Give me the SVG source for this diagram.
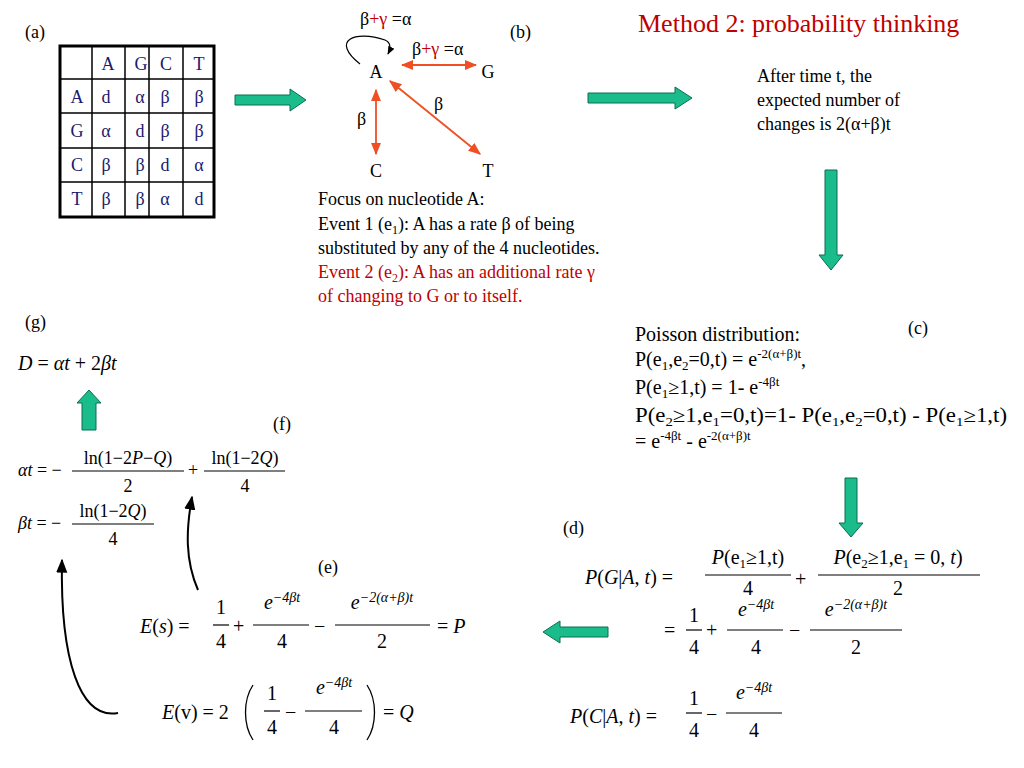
<svg xmlns="http://www.w3.org/2000/svg" width="1024" height="768" viewBox="0 0 1024 768" font-family="'Liberation Serif', 'Times New Roman', serif">
<defs>
<style>
text{font-family:"Liberation Serif","Times New Roman",serif;fill:#000}
.t{font-size:18px;fill:#1a1a6e;text-anchor:middle}
.s{font-size:18px}
.m{font-size:20px}
.i{font-style:italic}
.red{fill:#c00000}
.cell{fill:none;stroke:#000;stroke-width:1.5}
.arrR{stroke:#f04e23;stroke-width:1.8;fill:none}
.fr{stroke:#000;stroke-width:1.2}
.ga{fill:#1abc8c;stroke:#0a6e52;stroke-width:1}
</style>
<marker id="ra" viewBox="0 0 10 10" refX="9" refY="5" markerWidth="7" markerHeight="7" orient="auto-start-reverse"><path d="M0,1 L10,5 L0,9 z" fill="#f04e23"/></marker>
<marker id="ka" viewBox="0 0 10 10" refX="9" refY="5" markerWidth="7" markerHeight="7" orient="auto"><path d="M0,1 L10,5 L0,9 z" fill="#000"/></marker>
</defs>
<rect width="1024" height="768" fill="#fff"/>

<text x="25" y="38" class="s">(a)</text>
<text x="510" y="38" class="s">(b)</text>
<text x="638" y="32" style="font-size:26px" class="red">Method 2: probability thinking</text>

<g id="table">
<rect x="60" y="46" width="154" height="171" fill="#fff" stroke="#000" stroke-width="3"/>
<path class="cell" d="M92,46V217M125,46V217M149,46V217M183,46V217M60,79H214M60,113H214M60,148H214M60,182H214"/>
<text x="108" y="70" class="t">A</text><text x="141" y="70" class="t">G</text><text x="166" y="70" class="t">C</text><text x="199" y="70" class="t">T</text>
<text x="77" y="103" class="t">A</text><text x="106" y="103" class="t">d</text><text x="140" y="103" class="t">α</text><text x="165" y="103" class="t">β</text><text x="199" y="103" class="t">β</text>
<text x="77" y="137" class="t">G</text><text x="106" y="137" class="t">α</text><text x="140" y="137" class="t">d</text><text x="165" y="137" class="t">β</text><text x="199" y="137" class="t">β</text>
<text x="77" y="171" class="t">C</text><text x="106" y="171" class="t">β</text><text x="140" y="171" class="t">β</text><text x="165" y="171" class="t">d</text><text x="199" y="171" class="t">α</text>
<text x="77" y="205" class="t">T</text><text x="106" y="205" class="t">β</text><text x="140" y="205" class="t">β</text><text x="165" y="205" class="t">α</text><text x="199" y="205" class="t">d</text>
</g>

<g id="graph-b">
<text x="360" y="25" class="s">β<tspan class="red">+γ</tspan>  =α</text>
<text x="412" y="55" class="s">β<tspan class="red">+γ</tspan>  =α</text>
<text x="376" y="78" class="s" text-anchor="middle">A</text>
<text x="488" y="78" class="s" text-anchor="middle">G</text>
<text x="376" y="177" class="s" text-anchor="middle">C</text>
<text x="488" y="177" class="s" text-anchor="middle">T</text>
<text x="357" y="125" class="s">β</text>
<text x="434" y="110" class="s">β</text>
</g>

<g id="connectors">
<path d="M360,64 C330,40 355,30 385,40 C392,43 390,50 388,54" fill="none" stroke="#000" stroke-width="1.2" marker-end="url(#ka)"/>
<line x1="402" y1="65" x2="476" y2="65" class="arrR" marker-start="url(#ra)" marker-end="url(#ra)"/>
<line x1="376" y1="90" x2="376" y2="154" class="arrR" marker-start="url(#ra)" marker-end="url(#ra)"/>
<line x1="390" y1="81" x2="480" y2="154" class="arrR" marker-start="url(#ra)" marker-end="url(#ra)"/>
<path d="M198,590 C185,560 186,530 192,497" fill="none" stroke="#000" stroke-width="2" marker-end="url(#ka)"/>
<path d="M118,713 C80,720 60,660 62,560" fill="none" stroke="#000" stroke-width="2" marker-end="url(#ka)"/>
<polygon class="ga" points="235,95 290,95 290,89 306,100 290,111 290,105 235,105"/>
<polygon class="ga" points="588,93 675,93 675,87 692,98 675,109 675,103 588,103"/>
<polygon class="ga" points="825,170 837,170 837,255 843,255 831,270 819,255 825,255"/>
<polygon class="ga" points="845,478 857,478 857,523 863,523 851,537 839,523 845,523"/>
<polygon class="ga" points="608,627 560,627 560,621 543,632 560,643 560,637 608,637"/>
<polygon class="ga" points="82,430 82,403 77,403 89,390 101,403 96,403 96,430"/>
</g>

<g id="text-b">
<text x="318" y="205" class="s">Focus on nucleotide A:</text>
<text x="318" y="230" class="s">Event 1 (e<tspan font-size="12" dy="4">1</tspan><tspan dy="-4">): A has a rate β of being</tspan></text>
<text x="318" y="254" class="s">substituted  by any of the 4 nucleotides.</text>
<text x="318" y="278" class="s red">Event 2 (e<tspan font-size="12" dy="4">2</tspan><tspan dy="-4">): A has an additional rate γ</tspan></text>
<text x="318" y="302" class="s red">of  changing to G or to itself.</text>
</g>

<g id="text-right">
<text x="757" y="82" class="s">After time t, the</text>
<text x="757" y="106" class="s">expected number of</text>
<text x="757" y="130" class="s">changes is 2(α+β)t</text>
</g>

<g id="poisson-c">
<text x="908" y="334" class="s">(c)</text>
<text x="635" y="341" class="m">Poisson distribution:</text>
<text x="635" y="366" class="m">P(e<tspan font-size="13" dy="4">1</tspan><tspan dy="-4">,e</tspan><tspan font-size="13" dy="4">2</tspan><tspan dy="-4">=0,t) = e</tspan><tspan font-size="13" dy="-8">-2(α+β)t</tspan><tspan dy="8">,</tspan></text>
<text x="635" y="394" class="m">P(e<tspan font-size="13" dy="4">1</tspan><tspan dy="-4">≥1,t) = 1- e</tspan><tspan font-size="13" dy="-8">-4βt</tspan></text>
<text x="635" y="422" class="m" textLength="372" lengthAdjust="spacingAndGlyphs">P(e<tspan font-size="13" dy="4">2</tspan><tspan dy="-4">≥1,e</tspan><tspan font-size="13" dy="4">1</tspan><tspan dy="-4">=0,t)=1- P(e</tspan><tspan font-size="13" dy="4">1</tspan><tspan dy="-4">,e</tspan><tspan font-size="13" dy="4">2</tspan><tspan dy="-4">=0,t) - P(e</tspan><tspan font-size="13" dy="4">1</tspan><tspan dy="-4">≥1,t)</tspan></text>
<text x="635" y="448" class="m">= e<tspan font-size="13" dy="-8">-4βt</tspan><tspan dy="8"> - e</tspan><tspan font-size="13" dy="-8">-2(α+β)t</tspan></text>
</g>

<g id="left-g-f">
<text x="25" y="328" class="s">(g)</text>
<text x="18" y="370" class="m"><tspan class="i">D</tspan> = <tspan class="i">αt</tspan> + 2<tspan class="i">βt</tspan></text>
<text x="273" y="430" class="s">(f)</text>
<text x="18" y="476" class="s"><tspan class="i">αt</tspan> = −</text>
<text x="128" y="464" class="s" text-anchor="middle">ln(1−2<tspan class="i">P</tspan>−<tspan class="i">Q</tspan>)</text>
<line x1="72" y1="471" x2="184" y2="471" class="fr"/>
<text x="128" y="492" class="s" text-anchor="middle">2</text>
<text x="188" y="476" class="s">+</text>
<text x="245" y="464" class="s" text-anchor="middle">ln(1−2<tspan class="i">Q</tspan>)</text>
<line x1="204" y1="471" x2="285" y2="471" class="fr"/>
<text x="245" y="492" class="s" text-anchor="middle">4</text>
<text x="18" y="529" class="s"><tspan class="i">βt</tspan> = −</text>
<text x="113" y="517" class="s" text-anchor="middle">ln(1−2<tspan class="i">Q</tspan>)</text>
<line x1="72" y1="524" x2="154" y2="524" class="fr"/>
<text x="113" y="545" class="s" text-anchor="middle">4</text>
</g>

<g id="d-eqs">
<text x="563" y="534" class="s">(d)</text>
<text x="585" y="584" class="m"><tspan class="i">P</tspan>(<tspan class="i">G</tspan>|<tspan class="i">A</tspan>, <tspan class="i">t</tspan>) =</text>
<text x="748" y="564" class="m" text-anchor="middle"><tspan class="i">P</tspan>(e<tspan font-size="13" dy="4">1</tspan><tspan dy="-4">≥1,t)</tspan></text>
<line x1="705" y1="575" x2="791" y2="575" class="fr"/>
<text x="748" y="595" class="m" text-anchor="middle">4</text>
<text x="795" y="586" class="m">+</text>
<text x="898" y="564" class="m" text-anchor="middle"><tspan class="i">P</tspan>(e<tspan font-size="13" dy="4">2</tspan><tspan dy="-4">≥1,e</tspan><tspan font-size="13" dy="4">1</tspan><tspan dy="-4"> = 0, </tspan><tspan class="i">t</tspan>)</text>
<line x1="818" y1="575" x2="980" y2="575" class="fr"/>
<text x="898" y="595" class="m" text-anchor="middle">2</text>
<text x="664" y="637" class="m">=</text>
<text x="694" y="622" class="m" text-anchor="middle">1</text>
<line x1="686" y1="630" x2="702" y2="630" class="fr"/>
<text x="694" y="654" class="m" text-anchor="middle">4</text>
<text x="706" y="637" class="m">+</text>
<text x="756" y="616" class="m" text-anchor="middle"><tspan class="i">e</tspan><tspan font-size="14" dy="-7" class="i">−4βt</tspan></text>
<line x1="727" y1="630" x2="783" y2="630" class="fr"/>
<text x="756" y="654" class="m" text-anchor="middle">4</text>
<text x="789" y="637" class="m">−</text>
<text x="856" y="616" class="m" text-anchor="middle"><tspan class="i">e</tspan><tspan font-size="14" dy="-7" class="i">−2(α+β)t</tspan></text>
<line x1="810" y1="630" x2="902" y2="630" class="fr"/>
<text x="856" y="654" class="m" text-anchor="middle">2</text>
<text x="570" y="723" class="m"><tspan class="i">P</tspan>(<tspan class="i">C</tspan>|<tspan class="i">A</tspan>, <tspan class="i">t</tspan>) =</text>
<text x="694" y="705" class="m" text-anchor="middle">1</text>
<line x1="686" y1="713" x2="702" y2="713" class="fr"/>
<text x="694" y="737" class="m" text-anchor="middle">4</text>
<text x="706" y="721" class="m">−</text>
<text x="754" y="699" class="m" text-anchor="middle"><tspan class="i">e</tspan><tspan font-size="14" dy="-7" class="i">−4βt</tspan></text>
<line x1="726" y1="713" x2="782" y2="713" class="fr"/>
<text x="754" y="737" class="m" text-anchor="middle">4</text>
</g>

<g id="e-eqs">
<text x="318" y="573" class="s">(e)</text>
<text x="140" y="633" class="m"><tspan class="i">E</tspan>(<tspan class="i">s</tspan>) =</text>
<text x="221" y="614" class="m" text-anchor="middle">1</text>
<line x1="213" y1="625" x2="229" y2="625" class="fr"/>
<text x="221" y="648" class="m" text-anchor="middle">4</text>
<text x="233" y="633" class="m">+</text>
<text x="282" y="609" class="m" text-anchor="middle"><tspan class="i">e</tspan><tspan font-size="14" dy="-7" class="i">−4βt</tspan></text>
<line x1="253" y1="625" x2="309" y2="625" class="fr"/>
<text x="282" y="648" class="m" text-anchor="middle">4</text>
<text x="314" y="633" class="m">−</text>
<text x="382" y="609" class="m" text-anchor="middle"><tspan class="i">e</tspan><tspan font-size="14" dy="-7" class="i">−2(α+β)t</tspan></text>
<line x1="335" y1="625" x2="430" y2="625" class="fr"/>
<text x="382" y="648" class="m" text-anchor="middle">2</text>
<text x="437" y="633" class="m">= <tspan class="i">P</tspan></text>
<text x="162" y="719" class="m"><tspan class="i">E</tspan>(v) = 2</text>
<path d="M253,685 C243,700 243,725 253,740" fill="none" stroke="#000" stroke-width="1.3"/>
<text x="272" y="700" class="m" text-anchor="middle">1</text>
<line x1="264" y1="711" x2="280" y2="711" class="fr"/>
<text x="272" y="734" class="m" text-anchor="middle">4</text>
<text x="285" y="719" class="m">−</text>
<text x="334" y="694" class="m" text-anchor="middle"><tspan class="i">e</tspan><tspan font-size="14" dy="-7" class="i">−4βt</tspan></text>
<line x1="305" y1="711" x2="362" y2="711" class="fr"/>
<text x="334" y="734" class="m" text-anchor="middle">4</text>
<path d="M367,685 C377,700 377,725 367,740" fill="none" stroke="#000" stroke-width="1.3"/>
<text x="383" y="719" class="m">= <tspan class="i">Q</tspan></text>
</g>
</svg>
